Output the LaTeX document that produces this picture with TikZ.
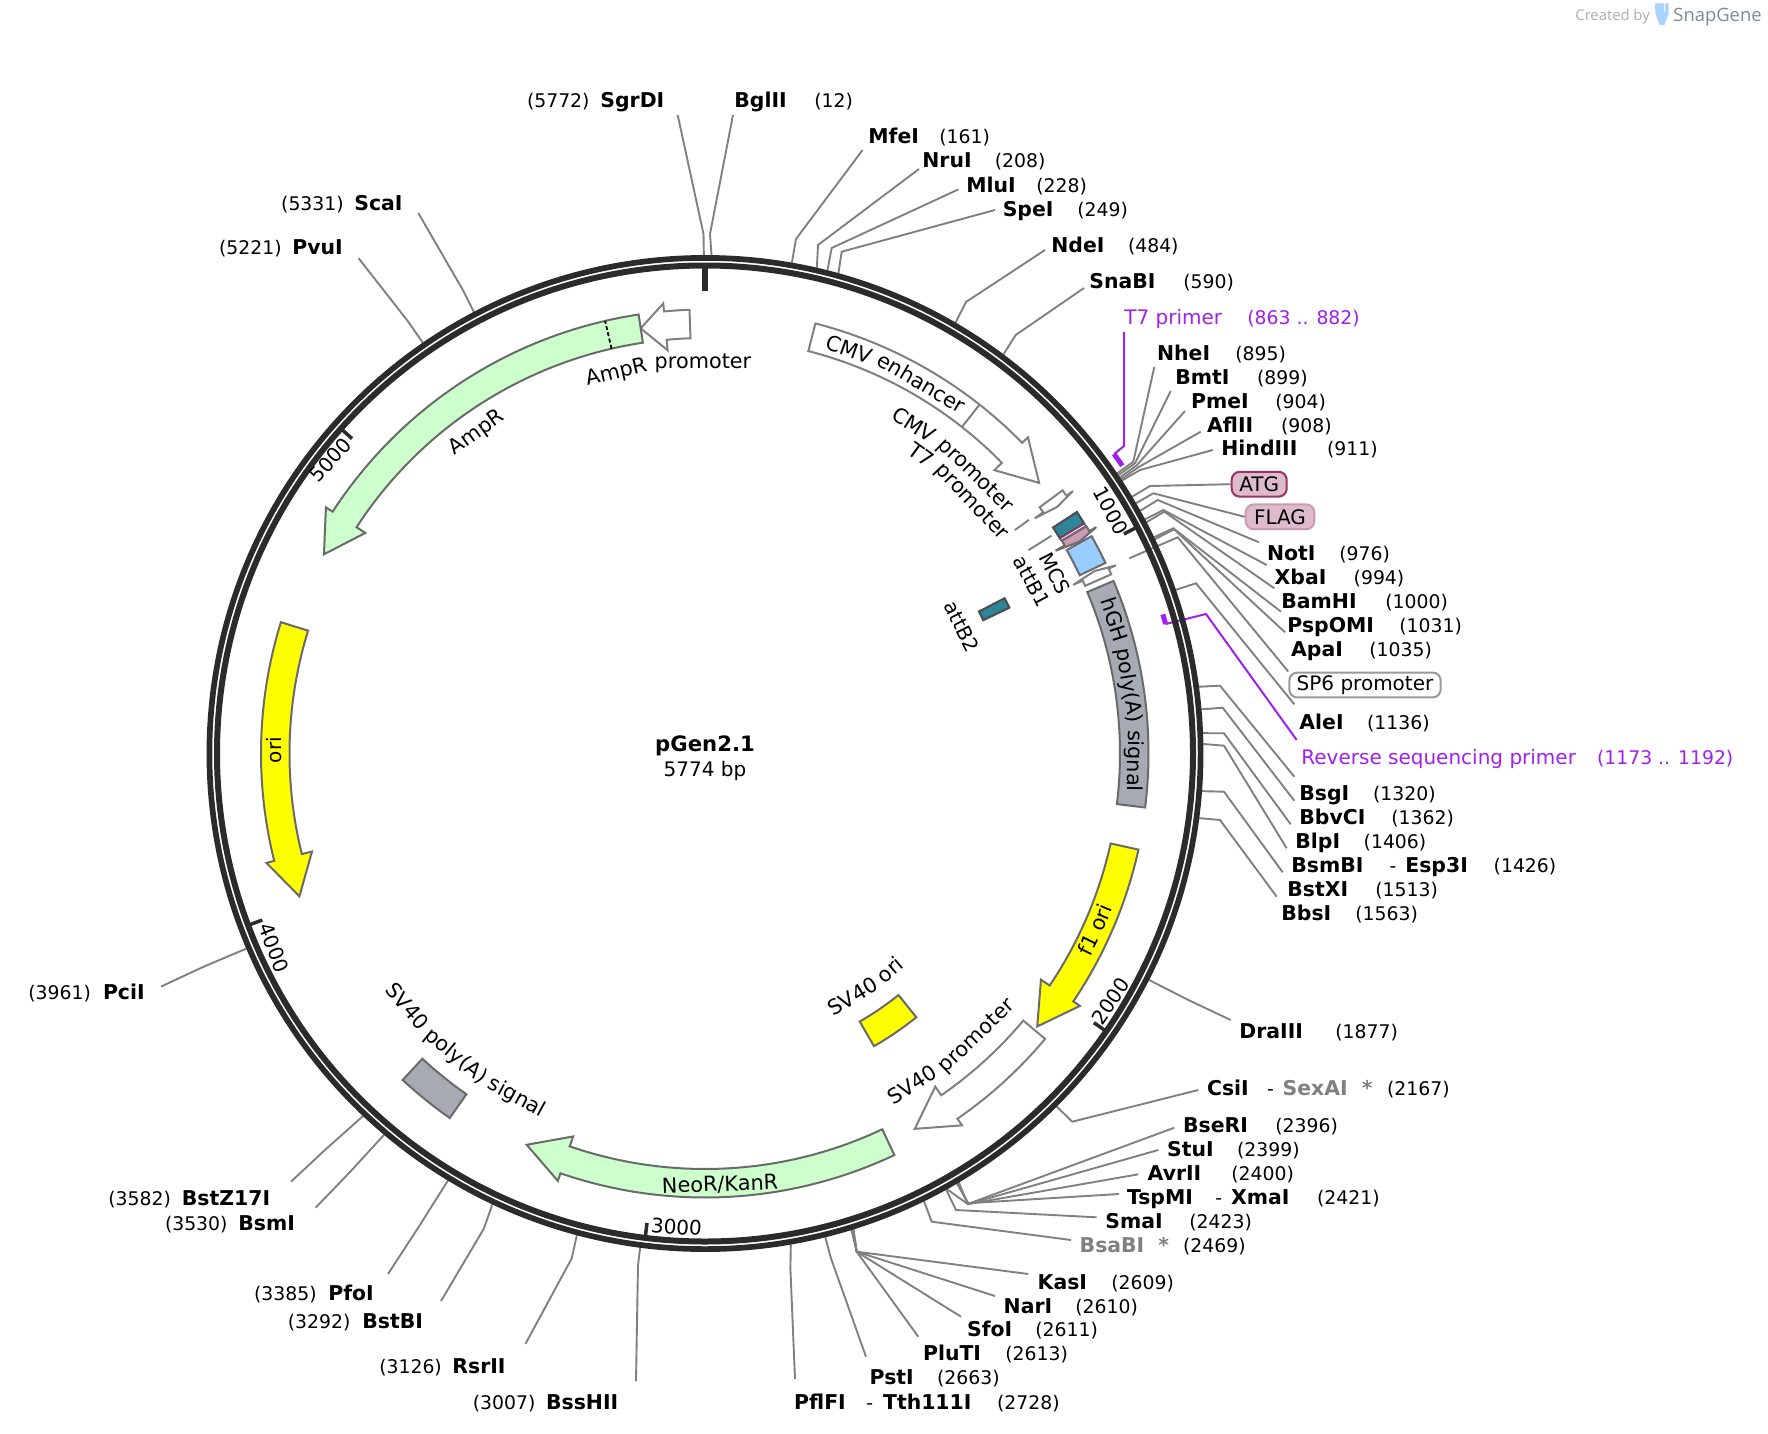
\documentclass[tikz,border=0pt]{standalone}
\usepackage{fontspec}
\setmainfont{DejaVu Sans}
\newfontfamily\logofont{Open Sans}
\usepackage{tikz}
\usetikzlibrary{calc}
\definecolor{ringgray}{HTML}{2B2B2B}
\definecolor{sitegray}{HTML}{808080}
\definecolor{edgegray}{HTML}{6A6A6A}
\definecolor{primerpurple}{HTML}{A020F0}
\definecolor{ampgreen}{HTML}{CCFFCC}
\definecolor{oriyellow}{HTML}{FFFF00}
\definecolor{polygray}{HTML}{A6ABB3}
\definecolor{attteal}{HTML}{2E8499}
\definecolor{mcsblue}{HTML}{99CCFF}
\definecolor{tagpink}{HTML}{DDBBCC}
\definecolor{flagpink}{HTML}{CC99B2}
\definecolor{atgedge}{HTML}{993366}
\definecolor{logogray}{HTML}{7E8A97}
\newcommand{\plainfont}{\fontsize{10}{12}\selectfont}
\newcommand{\posfont}{\fontsize{9.4}{12}\selectfont}
\tikzset{
	sitename/.style={font=\fontsize{10.2}{12}\selectfont\bfseries, anchor=base west, inner sep=0pt},
	sitepos/.style={font=\posfont, anchor=base west, inner sep=0pt},
	sitegrey/.style={sitename, text=sitegray},
	siteline/.style={draw=sitegray, line width=.95pt},
	primerline/.style={draw=primerpurple, line width=1pt},
	primermark/.style={draw=primerpurple, line width=2.5pt},
	primerlabel/.style={font=\plainfont, text=primerpurple, anchor=base west, inner sep=0pt},
	primerpos/.style={font=\posfont, text=primerpurple, anchor=base west, inner sep=0pt},
	tagbox/.style={font=\plainfont, draw, rounded corners=4pt, inner sep=0pt, minimum height=12.4pt},
	feat/.style={draw=edgegray, line width=1pt},
	whitefeat/.style={draw=sitegray, line width=1pt, fill=white},
	ticklabel/.style={font=\plainfont, inner sep=0pt},
	arcword/.style={font=\fontsize{10.4}{12}\selectfont, anchor=base, inner sep=0pt}
}
% a plain band, and an arrow with its head, both in degrees clockwise from the top
\newcommand{\bandfeat}[5]{\draw[#1] plot[domain=#2:#3,samples=30] ({\x-90}:#5) -- plot[domain=#3:#2,samples=30] ({\x-90}:#4) -- cycle;}
\newcommand{\arrowfeat}[4]{\draw[#1] plot[domain=#2:#3,samples=50] ({\x-90}:444) -- ({#3-90}:452) -- ({#4-90}:430) -- ({#3-90}:405) -- ({#3-90}:415.5) -- plot[domain=#3:#2,samples=50] ({\x-90}:415.5) -- cycle;}
\begin{document}
\begin{tikzpicture}[x=.5pt, y=-.5pt]
	\useasboundingbox (0,0) rectangle (1768,1434);
	\coordinate (hub) at (705,753.5);

	% restriction sites
	\foreach \n/\bp/\kx/\ky/\ex/\ey/\lx/\ly/\px in {
		SgrDI/5772/703.5/234/677.7/115/600/100.4/526.6,
		BglII/12/710/234/733/115/734/100.4/814,
		MfeI/161/796/239/862.6/150/868/136.4/939,
		NruI/208/818/245/919/169/922/160/994.5,
		MluI/228/831.7/248/958.4/189.4/966/185/1036,
		SpeI/249/841.7/251.7/995/210/1002.4/208.6/1077,
		NdeI/484/966/302/1045/250/1051/244.7/1127.6,
		SnaBI/590/1015.7/335/1084/288/1089/280.8/1183,
		NheI/895/1133.3/461.7/1154.3/367/1156.7/352.7/1235,
		BmtI/899/1135/463.3/1170.7/391/1175/376.7/1256.7,
		PmeI/904/1136.7/465.3/1185/411/1190.7/400.7/1275,
		AflII/908/1138.3/467.3/1200.7/431.7/1206.7/425/1280.7,
		HindIII/911/1140/470/1212.7/450/1221/448.3/1326.7,
		NotI/976/1157.7/500/1259/542.3/1266.7/553.3/1339,
		XbaI/994/1163.3/510/1266.7/565/1274.3/576.7/1353.3,
		BamHI/1000/1164.3/511.7/1274.3/588.3/1281/601/1385,
		PspOMI/1031/1173.3/528.3/1281/611.7/1287/625/1399,
		ApaI/1035/1174/529.3/1285/632.3/1290.7/649.3/1369,
		AleI/1136/1196/583.3/1294.3/704.3/1299/721.7/1366.7,
		BsgI/1320/1220/685.7/1294.3/776.7/1299/793.3/1372.7,
		BbvCI/1362/1222.7/707.7/1294.3/800.7/1299/816.7/1391,
		BlpI/1406/1224/733.3/1290.7/824.3/1295/841/1363.3,
		BsmBI/1426/1224/745.7/1286.7/848.3/1291/865/1493.3,
		BstXI/1513/1224/791.7/1282.7/872.3/1287/889.3/1375,
		BbsI/1563/1220/820/1276.7/896.7/1281/913.3/1355,
		DraIII/1877/1190/1000.8/1230.7/1020/1239/1030.7/1335,
		CsiI/2167/1072.3/1121.7/1198.3/1090/1206.7/1088.3/1386.7,
		BseRI/2396/967.7/1204/1174.3/1127.7/1182.7/1125/1275,
		StuI/2399/968.3/1204/1158.3/1150/1166.7/1149/1236.7,
		AvrII/2400/968.7/1204/1138.3/1174.3/1147.3/1173.3/1231,
		TspMI/2421/966.7/1203.3/1119/1194/1126.7/1197.3/1316.7,
		SmaI/2423/956/1210/1096.7/1217.3/1105/1221/1189,
		KasI/2609/856.7/1251.7/1028.3/1274/1037.3/1281.7/1111,
		NarI/2610/856.7/1251.7/995/1296/1003.3/1305.7/1075,
		SfoI/2611/856.7/1251.7/961/1316.7/966.7/1329.3/1035,
		PluTI/2613/856.7/1251.7/918.3/1336.7/922.7/1353.3/1005,
		PstI/2663/831/1258.4/866/1356.7/869.3/1377.3/936.7,
		PflFI/2728/790.4/1268.5/795/1379/793.8/1401.7/996.7,
		BssHII/3007/638/1265/636/1381/545.7/1401.5/472.5,
		RsrII/3126/571.7/1258.4/525.4/1344/452/1365.5/378.9,
		BstBI/3292/483.7/1229/441/1301/362/1320.5/287.5,
		PfoI/3385/418/1228/388/1274/328/1293.3/253.7,
		BsmI/3530/350/1172/315.7/1207.6/238/1223.4/164.6,
		BstZ17I/3582/326/1149/291/1181.7/181.5/1197.5/108,
		PciI/3961/203/967/161/986.6/102.6/992.3/28,
		PvuI/5221/408/321.4/358.6/258.2/292/247/218.7,
		ScaI/5331/463.4/291/418.3/213/354/203/280.8} {
		\coordinate (s\n) at ($(hub)+({\bp*.06235-90}:498.5)$);
		\coordinate (k\n) at (\kx,\ky);
		\coordinate (e\n) at (\ex,\ey);
		\draw[siteline] (s\n) -- (k\n) -- (e\n);
		\node[sitename] (\n) at (\lx,{\ly+7.5}) {\n};
		\node[sitepos] (p\n) at (\px,{\ly+7.5}) {(\bp)};
	}
	\coordinate (sBsaBI) at ($(hub)+({2469*.06235-90}:498.5)$);
	\coordinate (kBsaBI) at (931.7,1221.7);
	\coordinate (eBsaBI) at (1071,1240);
	\draw[siteline] (sBsaBI) -- (kBsaBI) -- (eBsaBI);
	\node[sitegrey] (BsaBI) at (1079.3,1252.5) {BsaBI\ \ *};
	\node[sitepos] (pBsaBI) at (1182.7,1252.5) {(2469)};

	% second enzymes on one line
	\node[sitepos] (dashEsp) at (1389.3,872.5) {-};
	\node[sitename] (Esp3I) at (1405,872.5) {Esp3I};
	\node[sitepos] (dashSex) at (1266.7,1095.8) {-};
	\node[sitegrey] (SexAI) at (1282.3,1095.8) {SexAI\ \ *};
	\node[sitepos] (dashXma) at (1215,1204.8) {-};
	\node[sitename] (XmaI) at (1230.7,1204.8) {XmaI};
	\node[sitepos] (dashTth) at (866,1409.2) {-};
	\node[sitename] (Tth111I) at (882.7,1409.2) {Tth111I};

	% tags
	\node[tagbox, draw=atgedge, fill=tagpink, line width=1pt, minimum width=27.5pt] (ATG) at (1259.2,484.2) {ATG};
	\node[tagbox, draw=flagpink, fill=tagpink, line width=1pt, minimum width=34.3pt] (FLAG) at (1280,516.8) {FLAG};
	\node[tagbox, draw=black!40, fill=white, line width=1pt, minimum width=75.7pt] (SP6) at (1365,685) {SP6 promoter};
	\coordinate (sATG) at ($(hub)+({946*.06235-90}:498.5)$);
	\coordinate (kATG) at (1150,486);
	\draw[siteline] (sATG) -- (kATG) -- (ATG.west);
	\coordinate (sFLAG) at ($(hub)+({960*.06235-90}:498.5)$);
	\coordinate (kFLAG) at (1153.3,493.3);
	\draw[siteline] (sFLAG) -- (kFLAG) -- (FLAG.west);
	\coordinate (sSP6) at (1129.3,558.3);
	\coordinate (kSP6) at (1177.7,537.3);
	\draw[siteline] (sSP6) -- (kSP6) -- (SP6.north west);

	% primers
	\coordinate (aT7) at ($(hub)+(-36.2:507)$);
	\coordinate (bT7) at ($(hub)+(-34.6:507)$);
	\coordinate (kT7) at (1124,446);
	\coordinate (eT7) at (1124,332);
	\draw[primermark] (aT7) -- (bT7);
	\draw[primerline] (aT7) -- (kT7) -- (eT7);
	\node[primerlabel] (T7primer) at (1124,324) {T7 primer};
	\node[primerpos] (pT7primer) at (1247,324) {(863 .. 882)};
	\coordinate (aRev) at ($(hub)+(-16.9:478.5)$);
	\coordinate (bRev) at ($(hub)+(-15.7:478.5)$);
	\coordinate (kRev) at (1206,614);
	\coordinate (eRev) at (1296.7,740);
	\draw[primermark] (aRev) -- (bRev);
	\draw[primerline] (bRev) -- (kRev) -- (eRev);
	\node[primerlabel] (Rev) at (1301,764.6) {Reverse sequencing primer};
	\node[primerpos] (pRev) at (1596.7,764.6) {(1173 .. 1192)};

	\begin{scope}[shift={(hub)}]
		% the ring and its ticks
		\draw[ringgray, line width=2.85pt] (0,0) circle (495.6);
		\draw[ringgray, line width=3pt] (0,0) circle (488);
		\draw[ringgray, line width=3pt] (-90:487) -- (-90:463);
		\foreach \t in {1000,2000,3000,4000,5000} {
			\draw[ringgray, line width=1.75pt] ({\t*.06235-90}:487) -- ({\t*.06235-90}:473);
		}

		% features
		\arrowfeat{whitefeat}{-2}{-5.3}{-8.6}
		\arrowfeat{feat, fill=ampgreen}{-8.6}{-57}{-62.4}
		\draw[black, line width=.9pt, dash pattern=on 2pt off 1.2pt] (-103:415.5) -- (-103:444);
		\arrowfeat{feat, fill=oriyellow}{-72.8}{-104}{-109.4}
		\arrowfeat{whitefeat}{14.4}{45.6}{51}
		\draw[draw=sitegray, line width=1pt] (-51.8:415.5) -- (-51.8:444);
		\arrowfeat{whitefeat}{53.65}{54.5}{55}
		\arrowfeat{whitefeat}{66.2}{65.4}{64.9}
		\bandfeat{feat, fill=attteal, draw=black!70}{57}{58.75}{415}{443.5}
		\bandfeat{draw=atgedge, fill=white, line width=.7pt}{58.8}{59.15}{415}{443.5}
		\arrowfeat{feat, fill=flagpink}{59.2}{59.95}{60.5}
		\bandfeat{feat, fill=mcsblue}{60.65}{64.55}{415}{443.5}
		\bandfeat{feat, fill=polygray}{67.1}{97}{415}{443.5}
		\arrowfeat{feat, fill=oriyellow}{102.5}{123.95}{129.4}
		\arrowfeat{whitefeat}{130}{145.35}{150.8}
		\arrowfeat{feat, fill=ampgreen}{154.75}{199}{204.5}
		\bandfeat{feat, fill=polygray}{215}{222.8}{416}{445}
		\bandfeat{feat, fill=oriyellow}{141.3}{150}{309.5}{338}
		\bandfeat{feat, fill=attteal, draw=black!70}{62.6}{64.4}{308.5}{337.5}

		% short lines from the inner labels
		\draw[siteline] (-35.8:382) -- (-35.8:399.6);
		\draw[siteline] (-32.15:382) -- (-32.15:409.3);

		% labels that follow the circle, word by word
		\foreach \w/\a/\r/\turn/\txt in {
			cmvA/19.6/422/0/CMV, enhancer/30.3/422/0/enhancer,
			cmvB/32.43/382/0/CMV, promoterCMV/44.2/382/0/promoter,
			tsevenA/35.87/361/0/T7, promoterT/46.69/361/0/promoter,
			hgh/71.9/423/0/hGH, polyA/80.88/423/0/poly(A), signalA/90.99/423/0/signal,
			ampA/-13.11/385/0/AmpR, promoterAmp/-0.3/385/0/promoter,
			ampB/-35.4/388/0/AmpR,
			svA/147.95/398/180/SV40, promoterSV/136.14/398/180/promoter,
			svB/229.64/398/180/SV40, polyB/219.44/398/180/poly(A), signalB/208.7/398/180/signal,
			neo/178/438/180/{NeoR/KanR},
			fone/116.5/436/180/f1, oriF/112.5/436/180/ori,
			svC/148.7/292/180/SV40, oriS/139.45/292/180/ori} {
			\node[arcword, rotate={\turn-\a}] (\w) at ({\a-90}:\r) {\txt};
		}
	\end{scope}

	\node[ticklabel, rotate=90] (oriLabel) at (274,750) {ori};
	\node[ticklabel, rotate=-62.8] (MCS) at (1055,573.3) {MCS};
	\node[ticklabel, rotate=-62.3] (attB1) at (1031.7,581.7) {attB1};
	\node[ticklabel, rotate=-63.7] (attB2) at (961.7,626.7) {attB2};

	\node[ticklabel, rotate=-62] (t1000) at (1110.7,510.8) {1000};
	\node[ticklabel, rotate=55] (t2000) at (1110.7,1001) {2000};
	\node[ticklabel, rotate=-4] (t3000) at (676.5,1226.8) {3000};
	\node[ticklabel, rotate=-69] (t4000) at (274,948) {4000};
	\node[ticklabel, rotate=48] (t5000) at (330.4,460) {5000};

	\node[font=\fontsize{10.6}{12}\selectfont\bfseries, inner sep=0pt] (title) at (705,746) {pGen2.1};
	\node[font=\plainfont, inner sep=0pt] (size) at (705,771) {5774 bp};

	% the corner mark
	\node[font=\logofont\fontsize{7.4}{9}\selectfont, text=black!32, anchor=base west, inner sep=0pt] (created) at (1575,20.5) {Created by};
	\fill[mcsblue!85!white] (1655,3.5) -- (1668.5,3.5) -- (1668.5,14) -- (1664.5,25) -- (1659.5,25) -- (1655.5,14) -- cycle;
	\draw[white, line width=.5pt] (1664.5,3.5) -- (1664.5,12);
	\node[font=\logofont\fontsize{9.2}{11}\selectfont, text=logogray, anchor=base west, inner sep=0pt] (snap) at (1673,22) {SnapGene};
\end{tikzpicture}
\end{document}
